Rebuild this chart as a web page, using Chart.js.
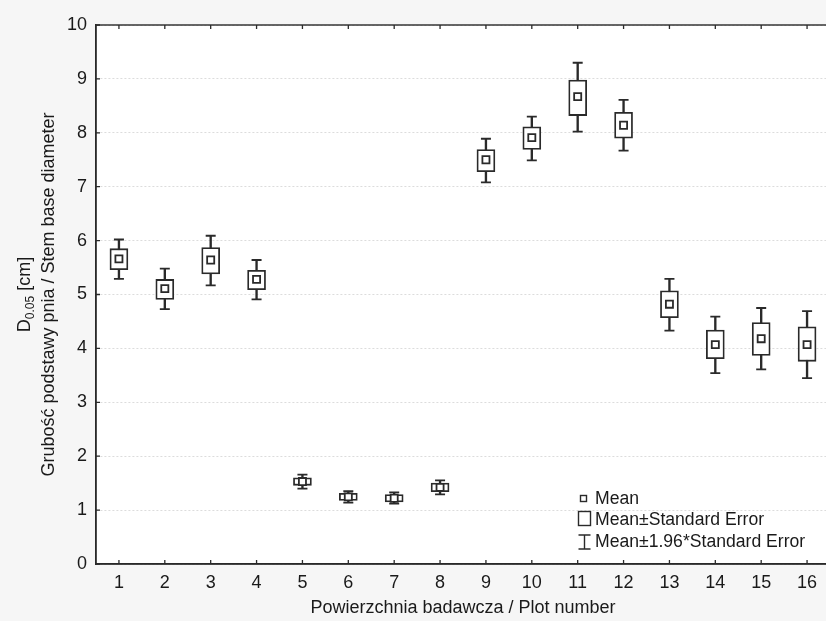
<!DOCTYPE html>
<html>
<head>
<meta charset="utf-8">
<script src="https://cdn.jsdelivr.net/npm/chart.js@4/dist/chart.umd.min.js"></script>
<style>
  html, body { margin: 0; padding: 0; overflow: hidden; background: #f6f6f6; }
  #wrap { width: 830px; height: 621px; }
</style>
</head>
<body>
<div id="wrap"><canvas id="c" width="830" height="621"></canvas></div>
<script>
// ---- data ----
const plots = ['1','2','3','4','5','6','7','8','9','10','11','12','13','14','15','16'];
const means  = [5.66, 5.11, 5.64, 5.28, 1.53, 1.245, 1.22, 1.42, 7.50, 7.91, 8.67, 8.14, 4.82, 4.07, 4.18, 4.07];
const seLow  = [5.46, 4.91, 5.38, 5.09, 1.46, 1.18, 1.15, 1.34, 7.28, 7.69, 8.32, 7.90, 4.57, 3.81, 3.87, 3.76];
const seHigh = [5.85, 5.28, 5.87, 5.45, 1.60, 1.31, 1.29, 1.50, 7.69, 8.11, 8.98, 8.38, 5.07, 4.34, 4.48, 4.40];
const ciLow  = [5.29, 4.73, 5.17, 4.91, 1.40, 1.14, 1.12, 1.29, 7.08, 7.49, 8.02, 7.67, 4.33, 3.54, 3.61, 3.45];
const ciHigh = [6.02, 5.48, 6.09, 5.64, 1.66, 1.35, 1.33, 1.55, 7.89, 8.30, 9.30, 8.61, 5.29, 4.59, 4.75, 4.69];
const yTicks = [0, 1, 2, 3, 4, 5, 6, 7, 8, 9, 10];
const legendLabels = ['Mean', 'Mean\u00B1Standard Error', 'Mean\u00B11.96*Standard Error'];
const xTitle = 'Powierzchnia badawcza / Plot number';
const yTitleMain = 'D';
const yTitleSub = '0.05';
const yTitleRest = ' [cm]';
const yTitle2 = 'Grubość podstawy pnia / Stem base diameter';

// ---- styles ----
const INK = '#2a2a2a';
const TXT = '#1a1a1a';
const FONT = '"Liberation Sans", Arial, sans-serif';

const framePlugin = {
  id: 'frame',
  beforeDraw(chart) {
    const {ctx, chartArea: a} = chart;
    ctx.save();
    ctx.fillStyle = '#f6f6f6';
    ctx.fillRect(0, 0, chart.width, chart.height);
    ctx.fillStyle = '#ffffff';
    ctx.fillRect(a.left, a.top, a.right - a.left, a.bottom - a.top);
    ctx.restore();
  },
  afterDraw(chart) {
    const {ctx, chartArea: a, scales} = chart;
    ctx.save();
    ctx.strokeStyle = INK;
    ctx.lineWidth = 1.4;
    ctx.strokeRect(a.left, a.top, a.right - a.left, a.bottom - a.top);
    // inward ticks
    ctx.lineWidth = 1.3;
    ctx.beginPath();
    const xs = scales.x;
    xs.ticks.forEach((t, i) => {
      const px = xs.getPixelForTick(i);
      ctx.moveTo(px, a.bottom); ctx.lineTo(px, a.bottom - 4);
      ctx.moveTo(px, a.top); ctx.lineTo(px, a.top + 4);
    });
    const ys = scales.y;
    yTicks.forEach(v => {
      const py = ys.getPixelForValue(v);
      ctx.moveTo(a.left, py); ctx.lineTo(a.left + 4, py);
      ctx.moveTo(a.right, py); ctx.lineTo(a.right - 4, py);
    });
    ctx.stroke();

    // y-axis title (two lines, rotated)
    const cy = (a.top + a.bottom) / 2;
    ctx.fillStyle = TXT;
    ctx.textBaseline = 'alphabetic';
    ctx.save();
    ctx.translate(30, cy);
    ctx.rotate(-Math.PI / 2);
    const fMain = '18px ' + FONT, fSub = '12px ' + FONT;
    ctx.font = fMain; const w1 = ctx.measureText(yTitleMain).width;
    ctx.font = fSub; const w2 = ctx.measureText(yTitleSub).width;
    ctx.font = fMain; const w3 = ctx.measureText(yTitleRest).width;
    const x0 = -(w1 + w2 + w3) / 2;
    ctx.textAlign = 'left';
    ctx.font = fMain; ctx.fillText(yTitleMain, x0, 0);
    ctx.font = fSub; ctx.fillText(yTitleSub, x0 + w1, 4);
    ctx.font = fMain; ctx.fillText(yTitleRest, x0 + w1 + w2, 0);
    ctx.restore();
    ctx.save();
    ctx.translate(53.5, cy);
    ctx.rotate(-Math.PI / 2);
    ctx.font = '18px ' + FONT;
    ctx.textAlign = 'center';
    ctx.fillText(yTitle2, 0, 0);
    ctx.restore();

    // legend
    const lx = 595;
    const baselines = [504, 525, 546.5];
    ctx.font = '17.6px ' + FONT;
    ctx.textAlign = 'left';
    ctx.fillStyle = TXT;
    legendLabels.forEach((t, i) => ctx.fillText(t, lx, baselines[i]));
    ctx.strokeStyle = INK;
    ctx.lineWidth = 1.4;
    ctx.strokeRect(580.5, 495.5, 6, 6);
    ctx.strokeRect(578.5, 511.5, 12, 14);
    ctx.beginPath();
    ctx.moveTo(584.5, 535); ctx.lineTo(584.5, 549);
    ctx.moveTo(578.5, 535); ctx.lineTo(590.5, 535);
    ctx.moveTo(578.5, 549); ctx.lineTo(590.5, 549);
    ctx.stroke();
    ctx.restore();
  }
};

new Chart(document.getElementById('c'), {
  data: {
    labels: plots,
    datasets: [
      {
        type: 'bar',
        label: 'whisker',
        data: plots.map((_, i) => [ciLow[i], ciHigh[i]]),
        backgroundColor: INK,
        borderWidth: 0,
        barThickness: 1.7,
        grouped: false,
        order: 5
      },
      {
        type: 'bar',
        label: 'se',
        data: plots.map((_, i) => [seLow[i], seHigh[i]]),
        backgroundColor: '#ffffff',
        borderColor: INK,
        borderWidth: 1.8,
        borderSkipped: false,
        barThickness: 18,
        grouped: false,
        order: 4
      },
      {
        type: 'line',
        label: 'capHigh',
        data: ciHigh,
        showLine: false,
        pointStyle: 'line',
        pointRadius: 5,
        borderColor: INK,
        borderWidth: 1.8,
        order: 3
      },
      {
        type: 'line',
        label: 'capLow',
        data: ciLow,
        showLine: false,
        pointStyle: 'line',
        pointRadius: 5,
        borderColor: INK,
        borderWidth: 1.8,
        order: 3
      },
      {
        type: 'line',
        label: 'mean',
        data: means,
        showLine: false,
        pointStyle: 'rect',
        pointRadius: 5,
        backgroundColor: '#ffffff',
        borderColor: INK,
        borderWidth: 1.8,
        order: 1
      }
    ]
  },
  options: {
    responsive: false,
    animation: false,
    events: [],
    layout: { autoPadding: false, padding: { top: 25, right: 0, left: 0, bottom: 0 } },
    plugins: { legend: { display: false }, tooltip: { enabled: false } },
    scales: {
      x: {
        type: 'category',
        offset: true,
        grid: { display: false, drawTicks: false },
        border: { display: true, color: INK, width: 1.4 },
        ticks: { font: { size: 18, family: FONT }, color: TXT, padding: 8, maxRotation: 0 },
        title: { display: true, text: xTitle, font: { size: 18, family: FONT }, color: TXT, padding: { top: 0, bottom: 2 } },
        afterFit(s) { s.height = 57; }
      },
      y: {
        min: 0, max: 10,
        afterBuildTicks(s) { s.ticks = yTicks.map(v => ({ value: v })); },
        grid: { color: '#dcdcdc', lineWidth: 1, drawTicks: false },
        border: { display: true, color: INK, width: 1.4, dash: [2, 2] },
        ticks: { font: { size: 18, family: FONT }, color: TXT, padding: 9 },
        afterFit(s) { s.width = 96; }
      }
    }
  },
  plugins: [framePlugin]
});
</script>
</body>
</html>
